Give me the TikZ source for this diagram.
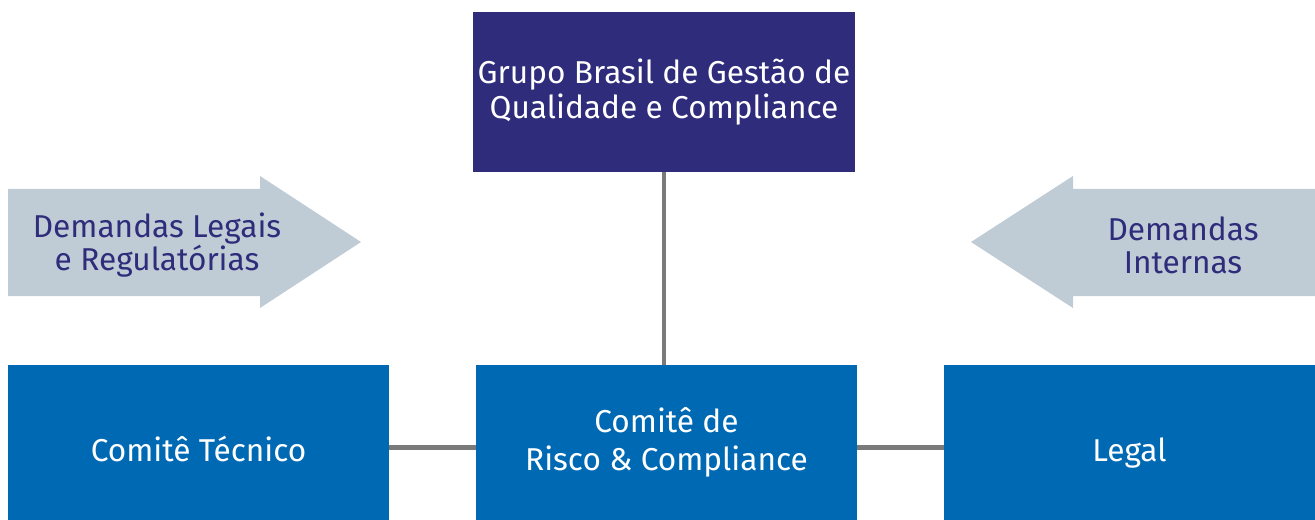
\documentclass[tikz,border=0pt]{standalone}
\usepackage{xcolor}
\usepackage{tikz}
\usepackage{fontspec}
\setmainfont{Fira Sans}
\definecolor{grupoblue}{HTML}{2E2C7B}
\definecolor{comiteblue}{HTML}{0069B3}
\definecolor{demandagray}{HTML}{BFCCD5}
\definecolor{linegray}{HTML}{7A7A7A}
\tikzset{
  orgbox/.style={fill=comiteblue, text=white, align=center, inner sep=0pt,
    minimum height=3.1cm, font=\fontsize{18}{21.5}\selectfont},
  demandtext/.style={text=grupoblue, align=center, inner sep=0pt,
    font=\fontsize{18}{18.8}\selectfont},
  orgline/.style={draw=linegray, line width=2.8pt}
}
\begin{document}
\begin{tikzpicture}[x=0.02cm, y=-0.02cm]
  \useasboundingbox (0, 0) rectangle (1315, 520);
  % arrows for the demands
  \fill[fill=demandagray] (8, 189) -- (260, 189) -- (260, 176) -- (361, 242)
    -- (260, 308) -- (260, 296) -- (8, 296) -- cycle;
  \fill[fill=demandagray] (1315, 189) -- (1073, 189) -- (1073, 176) -- (971, 242)
    -- (1073, 308) -- (1073, 296) -- (1315, 296) -- cycle;
  \node[demandtext] (legais) at (157, 245) {Demandas Legais\\e Regulatórias};
  \node[demandtext] (internas) at (1183, 245) {Demandas\\Internas};
  % boxes
  \node[orgbox, fill=grupoblue, minimum width=7.64cm, minimum height=3.2cm,
    font=\fontsize{18}{19.8}\selectfont] (grupo) at (664, 92)
    {Grupo Brasil de Gestão de\\Qualidade e Compliance};
  \node[orgbox, minimum width=7.62cm] (risco) at (666.5, 442.5) {Comitê de\\Risco \& Compliance};
  \node[orgbox, minimum width=7.62cm, text height=0.85cm, text depth=0.1cm] (tecnico) at (198.5, 442.5) {Comitê Técnico};
  \node[orgbox, minimum width=7.42cm, text height=0.85cm, text depth=0.1cm] (legal) at (1129.5, 442.5) {Legal};
  % connectors
  \draw[orgline] (grupo.south) -- (grupo.south |- risco.north);
  \draw[orgline] ([yshift=-0.1cm]tecnico.east) -- ([yshift=-0.1cm]risco.west);
  \draw[orgline] ([yshift=-0.1cm]risco.east) -- ([yshift=-0.1cm]legal.west);
\end{tikzpicture}
\end{document}
